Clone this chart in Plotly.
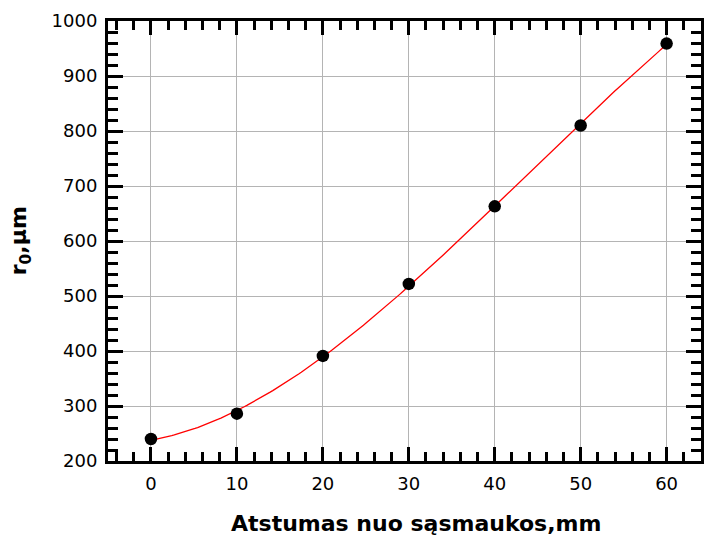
import numpy as np
import plotly.graph_objects as go

# Measured radius versus distance from the constriction
distance_mm = [0, 10, 20, 30, 40, 50, 60]
radius_um = [240, 286, 391, 522, 663, 810, 959]

x_ticks = [0, 10, 20, 30, 40, 50, 60]
y_ticks = [200, 300, 400, 500, 600, 700, 800, 900, 1000]

x_title = "Atstumas nuo sąsmaukos,mm"
y_title = "r<sub>0</sub>,µm"

# Cubic least-squares fit through the measurements
coef = np.polyfit(distance_mm, radius_um, 3)
x_fit = np.linspace(min(distance_mm), max(distance_mm), 200)
y_fit = np.polyval(coef, x_fit)

fig = go.Figure()
fig.add_trace(go.Scatter(x=x_fit, y=y_fit, mode="lines",
                         line=dict(color="red", width=1.3), hoverinfo="skip"))
fig.add_trace(go.Scatter(x=distance_mm, y=radius_um, mode="markers",
                         marker=dict(color="black", size=12.5)))

tick_font = dict(family="DejaVu Sans", size=18, color="black")
title_font = dict(family="DejaVu Sans", size=22, color="black", weight="bold")
axis_common = dict(
    showline=True, linecolor="black", linewidth=3, mirror="allticks",
    ticks="inside", tickcolor="black", tickwidth=3,
    showgrid=True, gridcolor="#b4b4b4", gridwidth=1,
    zeroline=False, tickfont=tick_font,
)

fig.update_xaxes(
    range=[-5, 64], tickvals=x_ticks, ticklen=14, ticklabelstandoff=4,
    minor=dict(dtick=2, tick0=0, ticks="inside", ticklen=9, tickwidth=3,
               tickcolor="black", showgrid=False),
    **axis_common,
)
fig.update_yaxes(
    range=[200, 1000], tickvals=y_ticks, ticklen=15, ticklabelstandoff=4,
    minor=dict(dtick=20, tick0=200, ticks="inside", ticklen=10, tickwidth=3,
               tickcolor="black", showgrid=False),
    **axis_common,
)

# Axis titles placed as paper-anchored annotations
fig.add_annotation(text=x_title, xref="paper", yref="paper",
                   x=0.52, y=-0.108, xanchor="center", yanchor="top",
                   showarrow=False, font=title_font)
fig.add_annotation(text=y_title, xref="paper", yref="paper",
                   x=-0.148, y=0.5, xanchor="center", yanchor="middle",
                   textangle=-90, showarrow=False, font=title_font)

fig.update_layout(
    width=707, height=539,
    margin=dict(l=108, r=3, t=21, b=78),
    plot_bgcolor="white", paper_bgcolor="white",
    showlegend=False,
)

fig.write_html("out.html")
